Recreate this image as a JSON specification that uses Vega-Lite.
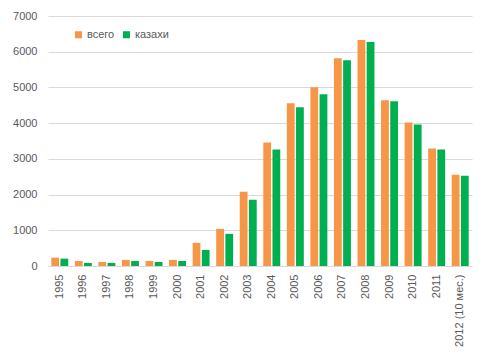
{
  "$schema": "https://vega.github.io/schema/vega-lite/v6.json",
  "autosize": "none",
  "width": 424,
  "height": 250,
  "padding": {"left": 48, "top": 16, "right": 16, "bottom": 90},
  "background": "white",
  "config": {
    "view": {"stroke": null},
    "font": "Liberation Sans"
  },
  "data": {
    "values": [
      {"year": "1995", "series": "всего", "value": 235},
      {"year": "1995", "series": "казахи", "value": 206},
      {"year": "1996", "series": "всего", "value": 140},
      {"year": "1996", "series": "казахи", "value": 85},
      {"year": "1997", "series": "всего", "value": 112},
      {"year": "1997", "series": "казахи", "value": 85},
      {"year": "1998", "series": "всего", "value": 170},
      {"year": "1998", "series": "казахи", "value": 140},
      {"year": "1999", "series": "всего", "value": 140},
      {"year": "1999", "series": "казахи", "value": 112},
      {"year": "2000", "series": "всего", "value": 170},
      {"year": "2000", "series": "казахи", "value": 140},
      {"year": "2001", "series": "всего", "value": 647},
      {"year": "2001", "series": "казахи", "value": 450},
      {"year": "2002", "series": "всего", "value": 1040},
      {"year": "2002", "series": "казахи", "value": 900},
      {"year": "2003", "series": "всего", "value": 2080},
      {"year": "2003", "series": "казахи", "value": 1855},
      {"year": "2004", "series": "всего", "value": 3458},
      {"year": "2004", "series": "казахи", "value": 3261},
      {"year": "2005", "series": "всего", "value": 4554},
      {"year": "2005", "series": "казахи", "value": 4442},
      {"year": "2006", "series": "всего", "value": 5004},
      {"year": "2006", "series": "казахи", "value": 4807},
      {"year": "2007", "series": "всего", "value": 5820},
      {"year": "2007", "series": "казахи", "value": 5763},
      {"year": "2008", "series": "всего", "value": 6325},
      {"year": "2008", "series": "казахи", "value": 6269},
      {"year": "2009", "series": "всего", "value": 4639},
      {"year": "2009", "series": "казахи", "value": 4611},
      {"year": "2010", "series": "всего", "value": 4020},
      {"year": "2010", "series": "казахи", "value": 3964},
      {"year": "2011", "series": "всего", "value": 3289},
      {"year": "2011", "series": "казахи", "value": 3261},
      {"year": "2012 (10 мес.)", "series": "всего", "value": 2558},
      {"year": "2012 (10 мес.)", "series": "казахи", "value": 2530}
    ]
  },
  "mark": {"type": "bar"},
  "encoding": {
    "x": {
      "field": "year",
      "type": "nominal",
      "sort": null,
      "scale": {"paddingInner": 0.28, "paddingOuter": 0.14},
      "axis": {
        "title": null,
        "labelAngle": -90,
        "labelAlign": "right",
        "labelBaseline": "middle",
        "labelPadding": 8,
        "labelFontSize": 11,
        "labelColor": "#595959",
        "ticks": false,
        "domainColor": "#d9d9d9",
        "domainWidth": 1
      }
    },
    "xOffset": {
      "field": "series",
      "type": "nominal",
      "scale": {"domain": ["всего", "казахи"], "paddingInner": 0.15}
    },
    "y": {
      "field": "value",
      "type": "quantitative",
      "scale": {"domain": [0, 7000], "nice": false},
      "axis": {
        "title": null,
        "values": [0, 1000, 2000, 3000, 4000, 5000, 6000, 7000],
        "format": "d",
        "labelFontSize": 11,
        "labelColor": "#595959",
        "labelPadding": 11,
        "ticks": false,
        "domain": false,
        "gridColor": "#d9d9d9",
        "gridWidth": 1
      }
    },
    "color": {
      "field": "series",
      "type": "nominal",
      "scale": {"domain": ["всего", "казахи"], "range": ["#F79646", "#00B050"]},
      "legend": {
        "title": null,
        "orient": "none",
        "legendX": 25,
        "legendY": 13,
        "direction": "horizontal",
        "symbolType": "square",
        "symbolSize": 50,
        "symbolStrokeWidth": 0,
        "labelFontSize": 11,
        "labelColor": "#595959",
        "labelOffset": 3,
        "columnPadding": 6
      }
    }
  }
}
